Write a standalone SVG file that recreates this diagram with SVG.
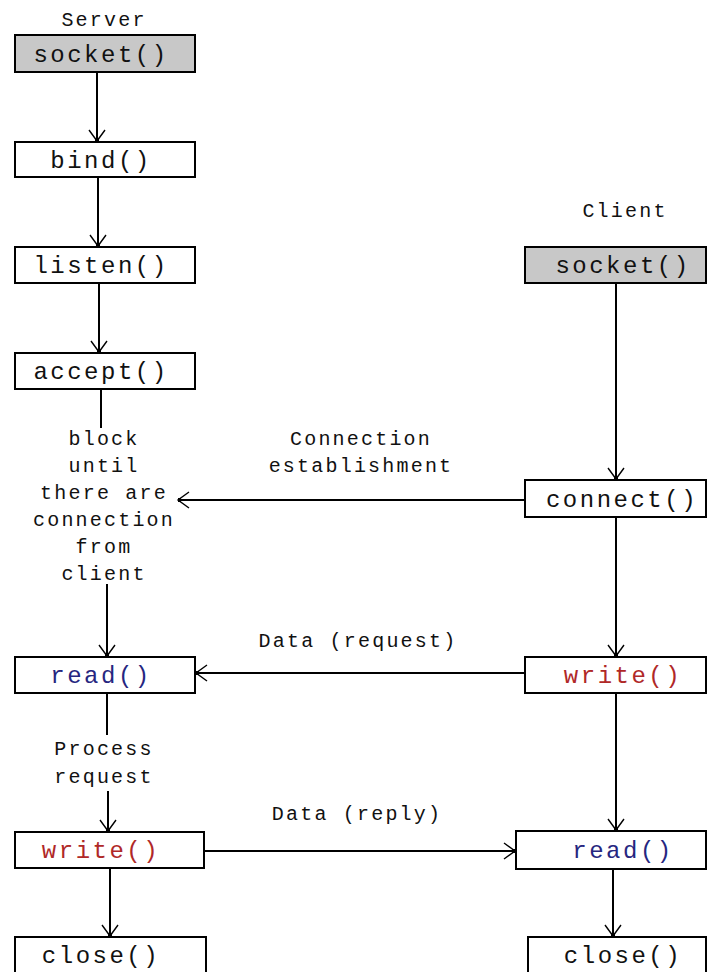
<svg xmlns="http://www.w3.org/2000/svg" width="707" height="972" viewBox="0 0 707 972">
<style>
  .box { fill: #ffffff; stroke: #000000; stroke-width: 2; }
  .grey { fill: #c8c8c8; }
  .fn { font-family: "Liberation Mono", "DejaVu Sans Mono", monospace; font-size: 24px; letter-spacing: 2.5px; text-anchor: middle; fill: #111111; }
  .lbl { font-family: "Liberation Mono", "DejaVu Sans Mono", monospace; font-size: 20px; letter-spacing: 2.2px; text-anchor: middle; fill: #111111; }
  .blue { fill: #262680; }
  .red { fill: #b02828; }
  .ln { stroke: #000000; stroke-width: 2; fill: none; }
  .arr { marker-end: url(#ah); }
</style>
<defs>
  <marker id="ah" markerUnits="userSpaceOnUse" markerWidth="24" markerHeight="24" viewBox="-14 -12 16 24" refX="0" refY="0" orient="auto">
    <path d="M -11 -8 L 0 0 L -11 8" fill="none" stroke="#000" stroke-width="1.4"/>
    <rect x="-3" y="-2" width="3" height="4" fill="#000"/>
  </marker>
</defs>
<rect width="707" height="972" fill="#ffffff"/>

<g id="labels">
  <text class="lbl" x="104" y="26">Server</text>
  <text class="lbl" x="625" y="217">Client</text>
  <text class="lbl" x="104" y="445">block</text>
  <text class="lbl" x="104" y="472">until</text>
  <text class="lbl" x="104" y="499">there are</text>
  <text class="lbl" x="104" y="526">connection</text>
  <text class="lbl" x="104" y="553">from</text>
  <text class="lbl" x="104" y="580">client</text>
  <text class="lbl" x="361" y="445">Connection</text>
  <text class="lbl" x="361" y="472">establishment</text>
  <text class="lbl" x="358" y="647">Data (request)</text>
  <text class="lbl" x="104" y="755">Process</text>
  <text class="lbl" x="104" y="783">request</text>
  <text class="lbl" x="357" y="820">Data (reply)</text>
</g>

<g id="connectors">
  <line class="ln arr" x1="97" y1="73" x2="97" y2="141"/>
  <line class="ln arr" x1="98" y1="178" x2="98" y2="246"/>
  <line class="ln arr" x1="99" y1="284" x2="99" y2="352"/>
  <line class="ln" x1="101" y1="390" x2="101" y2="428"/>
  <line class="ln arr" x1="107" y1="584" x2="107" y2="656"/>
  <line class="ln" x1="107" y1="694" x2="107" y2="735"/>
  <line class="ln arr" x1="108" y1="791" x2="108" y2="831"/>
  <line class="ln arr" x1="110" y1="869" x2="110" y2="936"/>
  <line class="ln arr" x1="616" y1="284" x2="616" y2="479"/>
  <line class="ln arr" x1="616" y1="518" x2="616" y2="656"/>
  <line class="ln arr" x1="616" y1="694" x2="616" y2="830"/>
  <line class="ln arr" x1="613" y1="870" x2="613" y2="936"/>
  <line class="ln arr" x1="524" y1="500" x2="178" y2="500"/>
  <line class="ln arr" x1="524" y1="673" x2="196" y2="673"/>
  <line class="ln arr" x1="205" y1="851" x2="515" y2="851"/>
</g>

<g id="s_socket">
  <rect class="box grey" x="15" y="35" width="180" height="37"/>
  <text class="fn" x="101" y="62">socket()</text>
</g>
<g id="s_bind">
  <rect class="box" x="15" y="142" width="180" height="35"/>
  <text class="fn" x="101" y="168">bind()</text>
</g>
<g id="s_listen">
  <rect class="box" x="15" y="247" width="180" height="36"/>
  <text class="fn" x="101" y="273">listen()</text>
</g>
<g id="s_accept">
  <rect class="box" x="15" y="353" width="180" height="36"/>
  <text class="fn" x="101" y="379">accept()</text>
</g>
<g id="s_read">
  <rect class="box" x="15" y="657" width="180" height="36"/>
  <text class="fn blue" x="101" y="683">read()</text>
</g>
<g id="s_write">
  <rect class="box" x="15" y="832" width="189" height="36"/>
  <text class="fn red" x="101" y="858">write()</text>
</g>
<g id="s_close">
  <rect class="box" x="15" y="937" width="191" height="45"/>
  <text class="fn" x="101" y="963">close()</text>
</g>

<g id="c_socket">
  <rect class="box grey" x="525" y="247" width="181" height="36"/>
  <text class="fn" x="623" y="273">socket()</text>
</g>
<g id="c_connect">
  <rect class="box" x="525" y="480" width="181" height="37"/>
  <text class="fn" x="622" y="507">connect()</text>
</g>
<g id="c_write">
  <rect class="box" x="525" y="657" width="181" height="36"/>
  <text class="fn red" x="623" y="683">write()</text>
</g>
<g id="c_read">
  <rect class="box" x="516" y="831" width="190" height="38"/>
  <text class="fn blue" x="623" y="858">read()</text>
</g>
<g id="c_close">
  <rect class="box" x="528" y="937" width="178" height="45"/>
  <text class="fn" x="623" y="963">close()</text>
</g>
</svg>
